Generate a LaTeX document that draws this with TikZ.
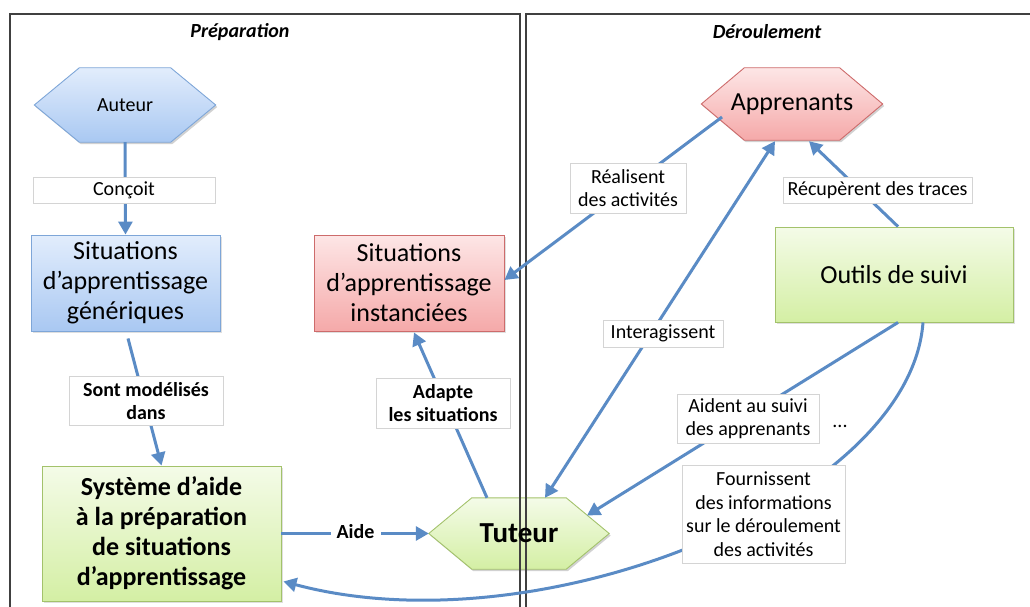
\documentclass[tikz,border=0pt]{standalone}
\usepackage{fontspec}
\setmainfont{Carlito}
\usetikzlibrary{arrows.meta,calc,backgrounds,shadows}
\definecolor{arr}{HTML}{5A8BC5}
\definecolor{panelc}{HTML}{404040}
\definecolor{lblb}{HTML}{D4D4D4}
\definecolor{bluetop}{HTML}{E2EDFC}
\definecolor{bluebot}{HTML}{A9C8F2}
\definecolor{blueb}{HTML}{7EA6D8}
\definecolor{redtop}{HTML}{FDE6E6}
\definecolor{redbot}{HTML}{F5A9A9}
\definecolor{redb}{HTML}{CD6B6B}
\definecolor{greentop}{HTML}{F4FBE8}
\definecolor{greenbot}{HTML}{D4EFA4}
\definecolor{greenb}{HTML}{A3C26B}
\newcommand{\hexa}[3]{\path[#1] (#2.west) -- ([xshift=#3pt]#2.north west) -- ([xshift=-#3pt]#2.north east) -- (#2.east) -- ([xshift=-#3pt]#2.south east) -- ([xshift=#3pt]#2.south west) -- cycle;}
\begin{document}
\begin{tikzpicture}[x=1pt,y=-1pt,
  panel/.style={draw=panelc, line width=1.5pt},
  head/.style={font=\fontsize{20}{24}\selectfont\bfseries\itshape, inner sep=0pt},
  arrow/.style={draw=arr, line width=3pt, -{Triangle[length=13pt,width=14pt]}},
  darrow/.style={draw=arr, line width=3pt, {Triangle[length=13pt,width=14pt]}-{Triangle[length=13pt,width=14pt]}},
  lbl/.style={fill=white, draw=lblb, line width=0.6pt, inner sep=0pt, align=center, font=\fontsize{20}{23.5}\selectfont},
  blbl/.style={lbl, font=\fontsize{20}{23.5}\selectfont\bfseries},
  hexnode/.style={inner sep=0pt, align=center},
  box/.style={line width=0.9pt, inner sep=0pt, align=center, drop shadow={opacity=0.25, shadow xshift=1.5pt, shadow yshift=-2pt}},
  bluebox/.style={box, draw=blueb, top color=bluetop, bottom color=bluebot},
  redbox/.style={box, draw=redb, top color=redtop, bottom color=redbot},
  greenbox/.style={box, draw=greenb, top color=greentop, bottom color=greenbot},
  bigtxt/.style={font=\fontsize{26}{30}\selectfont},
  bigbold/.style={font=\fontsize{26}{30}\selectfont\bfseries}
]
\useasboundingbox (0,0) rectangle (1030,607);
\clip (0,0) rectangle (1030,607);

% panels
\draw[panel] (10,620) -- (10,14) -- (520,14) -- (520,620);
\draw[panel] (526,620) -- (526,14) -- (1040,14);
\node[head] (hprep) at (240,32) {Préparation};
\node[head] (hderoul) at (767,32) {Déroulement};

% hexagon nodes (text)
\node[hexnode, minimum width=181pt, minimum height=74pt, font=\fontsize{20}{24}\selectfont] (auteur) at (125,105) {\raisebox{-2pt}{Auteur}};
\node[hexnode, minimum width=181pt, minimum height=72pt, bigtxt] (appr) at (792,104) {\raisebox{-3pt}{Apprenants}};
\node[hexnode, minimum width=180pt, minimum height=71pt, font=\fontsize{29}{33}\selectfont\bfseries] (tuteur) at (519,533.5) {\raisebox{-1pt}{Tuteur}};

\begin{scope}[on background layer]
  \begin{scope}[transform canvas={shift={(1.5pt,-2pt)}}]
    \hexa{fill=black, opacity=0.18}{auteur}{45}
    \hexa{fill=black, opacity=0.18}{appr}{43}
    \hexa{fill=black, opacity=0.18}{tuteur}{43}
  \end{scope}
  \hexa{draw=blueb, line width=0.9pt, top color=bluetop, bottom color=bluebot}{auteur}{45}
  \hexa{draw=redb, line width=0.9pt, top color=redtop, bottom color=redbot}{appr}{43}
  \hexa{draw=greenb, line width=0.9pt, top color=greentop, bottom color=greenbot}{tuteur}{43}
\end{scope}

% boxes
\node[bluebox, bigtxt, minimum width=189pt, minimum height=96pt] (gen) at (125.5,283) {Situations\\d’apprentissage\\génériques};
\node[redbox, bigtxt, minimum width=190pt, minimum height=96pt] (inst) at (409,283) {Situations\\d’apprentissage\\instanciées};
\node[greenbox, bigbold, minimum width=239pt, minimum height=135pt] (sys) at (161.5,533.5) {Système d’aide\\à la préparation\\de situations\\d’apprentissage};
\node[greenbox, bigtxt, minimum width=238pt, minimum height=95pt] (outils) at (894,274.5) {\raisebox{-2pt}{Outils de suivi}};

% connectors
\draw[arrow] (auteur.south) -- (gen.north);
\draw[arrow] ($(gen.south)+(2.5,7)$) -- (sys.north);
\draw[arrow] (sys.east) -- (tuteur.west);
\draw[arrow] ($(tuteur.north)+(-32,0)$) -- ($(inst.south)+(5,1)$);
\draw[arrow] ($(appr.center)+(-70,13)$) -- ($(inst.east)+(0,-3)$);
\draw[darrow] ($(tuteur.north)+(26,0)$) -- ($(appr.south)+(-17,1)$);
\draw[arrow] ($(outils.north)+(4,0)$) -- ($(appr.south)+(17,1)$);
\draw[arrow] ($(outils.south)+(4,0)$) -- ($(tuteur.center)+(68,-18)$);
\draw[arrow] ($(outils.south)+(29,0)$) .. controls (910,500) and (540,650) .. ($(sys.south east)+(2,-20)$);

% labels
\node[lbl, minimum width=182pt, minimum height=26pt] (lconcoit) at (124,190) {Conçoit};
\node[blbl, minimum width=154pt, minimum height=49pt] (lsont) at (146,401) {Sont modélisés\\dans};
\node[blbl, minimum width=49pt, minimum height=28pt, draw=white] (laide) at (355.5,532) {Aide};
\node[blbl, minimum width=134pt, minimum height=50pt] (ladapte) at (443,403) {Adapte\\les situations};
\node[lbl, minimum width=116pt, minimum height=50pt] (lrealise) at (628,188) {Réalisent\\des activités};
\node[lbl, minimum width=120pt, minimum height=27pt] (linter) at (663,333.5) {Interagissent};
\node[lbl, minimum width=189pt, minimum height=26pt] (lrecup) at (877.5,190.5) {Récupèrent des traces};
\node[lbl, minimum width=142pt, minimum height=49pt] (laident) at (748,418.5) {Aident au suivi\\des apprenants};
\node[font=\fontsize{20}{24}\selectfont, inner sep=0pt] (dots) at (840,426) {...};
\node[lbl, minimum width=163pt, minimum height=98pt] (lfourn) at (763.5,514) {Fournissent\\des informations\\sur le déroulement\\des activités};
\end{tikzpicture}
\end{document}
